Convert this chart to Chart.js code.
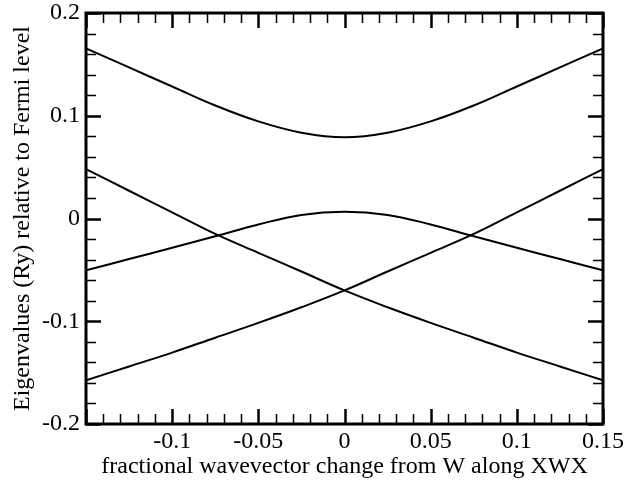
<!DOCTYPE html>
<html>
<head>
<meta charset="utf-8">
<script src="https://cdn.jsdelivr.net/npm/chart.js@4/dist/chart.umd.min.js"></script>
<style>
  html, body { margin: 0; padding: 0; background: #fff; }
  #wrap { width: 629px; height: 483px; }
</style>
</head>
<body>
<div id="wrap"><canvas id="bands"></canvas></div>
<script>
// wavevector grid (fraction from W along XWX)
const kValues = [-0.15, -0.125, -0.1, -0.075, -0.05, -0.025, 0, 0.025, 0.05, 0.075, 0.1, 0.125, 0.15];

// eigenvalues relative to Fermi level (Ry)
const upperBand = [0.1655, 0.147, 0.1285, 0.110, 0.0945, 0.0835, 0.079, 0.0835, 0.0945, 0.110, 0.1285, 0.147, 0.1655];
const humpBand = [-0.0505, -0.0395, -0.0285, -0.0173, -0.0058, 0.0035, 0.0066, 0.0035, -0.0058, -0.0173, -0.0285, -0.0395, -0.0505];
const fallingBand = [0.048, 0.027, 0.006, -0.015, -0.0334, -0.0516, -0.070, -0.0864, -0.1016, -0.116, -0.1305, -0.144, -0.1575];
const risingBand = [-0.1575, -0.144, -0.1305, -0.116, -0.1016, -0.0864, -0.070, -0.0516, -0.0334, -0.015, 0.006, 0.027, 0.048];

// tick labels
const xTickValues = [-0.1, -0.05, 0, 0.05, 0.1, 0.15];
const xTickLabels = ['-0.1', '-0.05', '0', '0.05', '0.1', '0.15'];
const yTickValues = [-0.2, -0.1, 0, 0.1, 0.2];
const yTickLabels = ['-0.2', '-0.1', '0', '0.1', '0.2'];

const FONT = "'Liberation Serif', 'Times New Roman', serif";

function toPoints(ys) {
    return kValues.map((k, i) => ({ x: k, y: ys[i] }));
}

// draws the frame and inward ticks on all four sides
const frameTicks = {
    id: 'frameTicks',
    afterDatasetsDraw(chart) {
        const { ctx, chartArea: a, scales } = chart;
        const xs = scales.x, ys = scales.y;
        ctx.save();
        ctx.strokeStyle = '#000';
        ctx.lineCap = 'butt';

        // x ticks: minor every 0.01, major every 0.05
        for (let i = -15; i <= 15; i++) {
            const px = Math.round(xs.getPixelForValue(i / 100)) + 0.5;
            const major = i % 5 === 0;
            const len = major ? 15 : 10;
            ctx.lineWidth = major ? 2.5 : 1.5;
            ctx.beginPath();
            ctx.moveTo(px, a.bottom); ctx.lineTo(px, a.bottom - len);
            ctx.moveTo(px, a.top); ctx.lineTo(px, a.top + len);
            ctx.stroke();
        }
        // y ticks: minor every 0.02, major every 0.1
        for (let i = -10; i <= 10; i++) {
            const py = Math.round(ys.getPixelForValue(i / 50)) + 0.5;
            const major = i % 5 === 0;
            const len = major ? 15 : 10;
            ctx.lineWidth = major ? 2.5 : 1.5;
            ctx.beginPath();
            ctx.moveTo(a.left, py); ctx.lineTo(a.left + len, py);
            ctx.moveTo(a.right, py); ctx.lineTo(a.right - len, py);
            ctx.stroke();
        }

        ctx.lineWidth = 3;
        ctx.strokeRect(a.left, a.top, a.right - a.left, a.bottom - a.top);
        ctx.restore();
    }
};

const lineStyle = {
    borderColor: '#000',
    borderWidth: 2,
    pointRadius: 0,
    fill: false,
    tension: 0.4
};

new Chart(document.getElementById('bands'), {
    type: 'line',
    data: {
        datasets: [
            Object.assign({ label: 'band 1', data: toPoints(upperBand) }, lineStyle),
            Object.assign({ label: 'band 2', data: toPoints(humpBand) }, lineStyle),
            Object.assign({ label: 'band 3', data: toPoints(fallingBand) }, lineStyle),
            Object.assign({ label: 'band 4', data: toPoints(risingBand) }, lineStyle)
        ]
    },
    options: {
        responsive: true,
        maintainAspectRatio: false,
        animation: false,
        layout: { padding: { top: 13, right: 26, left: 0, bottom: 0 } },
        plugins: {
            legend: { display: false },
            tooltip: { enabled: false }
        },
        scales: {
            x: {
                type: 'linear',
                min: -0.15,
                max: 0.15,
                afterBuildTicks: s => { s.ticks = xTickValues.map(v => ({ value: v })); },
                afterFit: s => { s.height = 59; s.paddingLeft = 0; s.paddingRight = 0; },
                grid: { display: false, drawTicks: false },
                border: { display: false },
                ticks: {
                    color: '#000',
                    padding: 3,
                    maxRotation: 0,
                    autoSkip: false,
                    font: { family: FONT, size: 24 },
                    callback: (v, i) => xTickLabels[i]
                },
                title: {
                    display: true,
                    text: 'fractional wavevector change from W along XWX',
                    color: '#000',
                    padding: { top: 0, bottom: 2 },
                    font: { family: FONT, size: 24 }
                }
            },
            y: {
                type: 'linear',
                min: -0.2,
                max: 0.2,
                afterBuildTicks: s => { s.ticks = yTickValues.map(v => ({ value: v })); },
                afterFit: s => { s.width = 86; s.paddingTop = 0; s.paddingBottom = 0; },
                grid: { display: false, drawTicks: false },
                border: { display: false },
                ticks: {
                    color: '#000',
                    padding: 6,
                    autoSkip: false,
                    font: { family: FONT, size: 24 },
                    callback: (v, i) => yTickLabels[i]
                },
                title: {
                    display: true,
                    text: 'Eigenvalues (Ry) relative to Fermi level',
                    color: '#000',
                    padding: { top: 8, bottom: 0 },
                    font: { family: FONT, size: 24 }
                }
            }
        }
    },
    plugins: [frameTicks]
});
</script>
</body>
</html>
